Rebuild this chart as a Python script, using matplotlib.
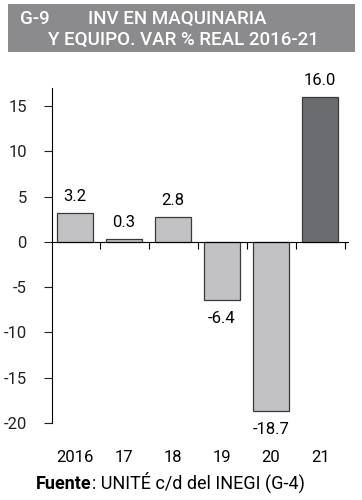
import matplotlib
matplotlib.use("Agg")
import matplotlib.pyplot as plt
from matplotlib.patches import Rectangle

plt.rcParams['font.family'] = ['Roboto', 'DejaVu Sans']

categories = ['2016', '17', '18', '19', '20', '21']
values = [3.2, 0.3, 2.8, -6.4, -18.7, 16.0]
labels = ['3.2', '0.3', '2.8', '-6.4', '-18.7', '16.0']
yticks = [15, 10, 5, 0, -5, -10, -15, -20]

W, H = 362, 500
fig = plt.figure(figsize=(W/100, H/100), dpi=100)

# title box
fig.patches.append(Rectangle((8/W, 1-52/H), 347/W, 48/H, transform=fig.transFigure,
                             facecolor='#8b8b8d', edgecolor='none'))
fig.text(20/W, 1-19/H, 'G-9', color='white', fontsize=13.5, fontweight='medium', va='center', ha='left')
fig.text(88/W, 1-19/H, 'INV EN MAQUINARIA', color='white', fontsize=13.5, fontweight='medium', va='center', ha='left')
fig.text(48/W, 1-40/H, 'Y EQUIPO. VAR % REAL 2016-21', color='white', fontsize=13.5, fontweight='medium', va='center', ha='left')

ax = fig.add_axes([52/W, 1-423/H, (348-52)/W, (423-88)/H])
x = list(range(len(categories)))
colors = ['#c2c2c4'] * 5 + ['#6b6c70']
ax.bar(x, values, width=0.72, color=colors, edgecolor='#3a3a3a', linewidth=0.9, zorder=2)
for xi, v, lab in zip(x, values, labels):
    if v >= 0:
        ax.text(xi, v + 1.0, lab, ha='center', va='bottom', fontsize=12)
    else:
        ax.text(xi, v - 1.2, lab, ha='center', va='top', fontsize=12)

ax.set_xlim(-0.47, 5.57)
ax.set_ylim(-20, 17)
ax.set_yticks(yticks)
ax.set_yticklabels([str(t) for t in yticks], fontsize=12)
ax.tick_params(axis='y', length=6, width=0.8, pad=12, colors='#222222')
ax.set_xticks([i + 0.5 for i in range(len(categories))])
ax.set_xticklabels([])
ax.tick_params(axis='x', length=5, width=0.8, direction='out')
for s in ['top', 'right']:
    ax.spines[s].set_visible(False)
ax.spines['bottom'].set_position(('data', 0))
ax.spines['left'].set_linewidth(0.8)
ax.spines['bottom'].set_linewidth(0.8)
ax.spines['left'].set_bounds(-20, 17)

for xi, c in zip(x, categories):
    fig.text((52 + (xi + 0.47) * (296 / 6.04)) / W, 1 - 457/H, c, ha='center', va='center', fontsize=12)

t1 = fig.text(36/W, 1-493/H, 'Fuente', fontsize=13, fontweight='bold', ha='left', va='bottom')
ax.annotate(': UNITÉ c/d del INEGI (G-4)', xy=(1.0, 0.0), xycoords=t1, fontsize=13,
            ha='left', va='bottom', annotation_clip=False)

fig.savefig('out.png', dpi=100)
